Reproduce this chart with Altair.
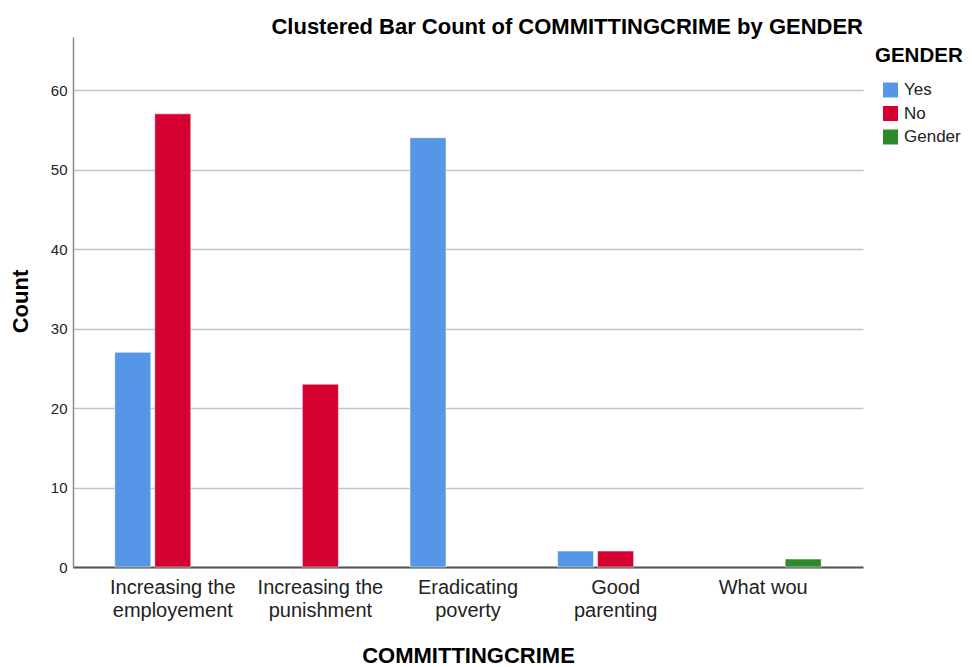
import altair as alt
import pandas as pd

categories = ["Increasing the|employement", "Increasing the|punishment",
              "Eradicating|poverty", "Good|parenting", "What wou"]
series = ["Yes", "No", "Gender"]
yes_counts = [27, 0, 54, 2, 0]
no_counts = [57, 23, 0, 2, 0]
gender_counts = [0, 0, 0, 0, 1]
colors = ["#5596E6", "#D50032", "#2B8A2B"]
y_ticks = [0, 10, 20, 30, 40, 50, 60]

rows = []
for s, vals in zip(series, [yes_counts, no_counts, gender_counts]):
    for c, v in zip(categories, vals):
        rows.append({"cat": c, "series": s, "count": v})
df = pd.DataFrame(rows)

FONT = "Liberation Sans"

bars = alt.Chart(df).transform_filter("datum.count > 0").mark_bar(
    stroke="white", strokeWidth=1, strokeOpacity=0.5
).encode(
    x=alt.X("cat:N", sort=categories,
            scale=alt.Scale(domain=categories, paddingInner=0, paddingOuter=0.176),
            axis=alt.Axis(title="COMMITTINGCRIME", labelExpr="split(datum.label, '|')",
                          labelAngle=0, labelFontSize=20, labelColor="#222222",
                          labelPadding=10, labelLineHeight=23, labelBaseline="top",
                          ticks=False, grid=False, domainColor="#555555", domainWidth=2,
                          titleFontSize=22, titleFontWeight="bold", titleColor="black",
                          titleY=95, titleBaseline="alphabetic")),
    xOffset=alt.XOffset("series:N", sort=series,
                        scale=alt.Scale(domain=series, paddingInner=0.1, paddingOuter=0.395)),
    y=alt.Y("count:Q", scale=alt.Scale(domain=[0, 66.67], nice=False),
            axis=alt.Axis(title="Count", values=y_ticks, grid=True, gridColor="#c4c4c4",
                          gridWidth=1.5, ticks=False, labelFontSize=15, labelColor="#222222",
                          labelPadding=6, domainColor="#8a8a8a", domainWidth=1.5,
                          titleFontSize=22, titleFontWeight="bold", titleColor="black",
                          titleAngle=270, titleX=-46, titleY=264,
                          titleBaseline="alphabetic", titleAlign="center")),
    color=alt.Color("series:N", scale=alt.Scale(domain=series, range=colors),
                    legend=alt.Legend(title="GENDER", orient="none", legendX=802, legendY=9,
                                      padding=0, titleFontSize=20.5, titleFontWeight="bold",
                                      titleColor="black", titlePadding=15,
                                      symbolType="square", symbolSize=225,
                                      symbolStrokeWidth=0, symbolOffset=7,
                                      labelFontSize=17, labelColor="#222222",
                                      labelOffset=5, rowPadding=5.5))
)

chart = bars.properties(
    width=790, height=530,
    title=alt.TitleParams("Clustered Bar Count of COMMITTINGCRIME by GENDER",
                          anchor="end", frame="group", fontSize=22, fontWeight="bold",
                          color="black", baseline="alphabetic", offset=-19, font=FONT),
    autosize=alt.AutoSizeParams(type="none"),
    padding={"left": 65, "top": 29, "right": 101, "bottom": 100},
).configure(
    font=FONT,
).configure_view(stroke=None)

chart.save("out.html", embed_options={"renderer": "svg", "actions": False})
